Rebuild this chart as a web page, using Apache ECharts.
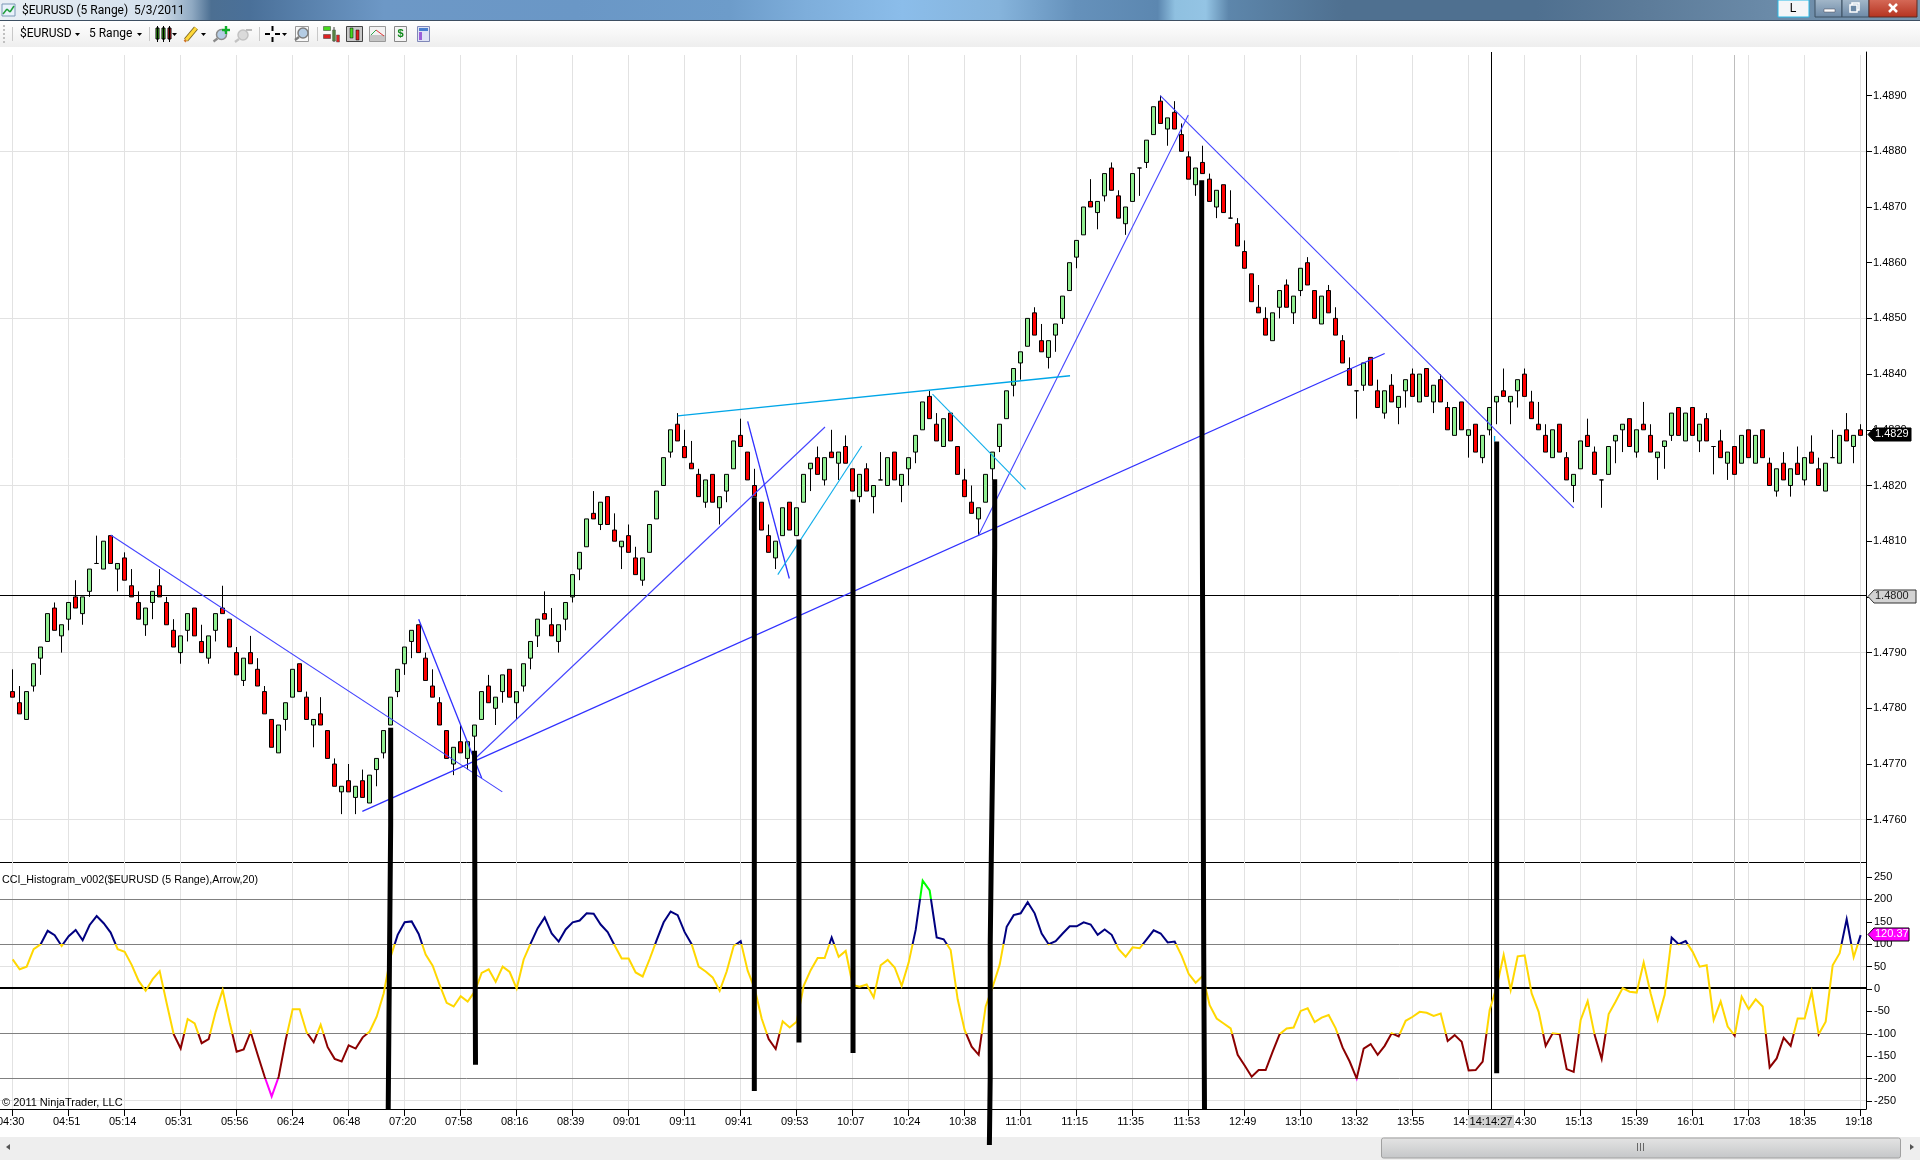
<!DOCTYPE html>
<html><head><meta charset="utf-8"><title>$EURUSD (5 Range)</title>
<style>html,body{margin:0;padding:0;background:#fff}#c{width:1920px;height:1160px}</style>
<script src="https://cdn.jsdelivr.net/npm/echarts@6/dist/echarts.min.js"></script></head>
<body><div id="c"></div>
<script>
// Prices in pips relative to basePrice
const basePrice = 1.48, pipSize = 0.0001;
const opens = [-17,-19,-22,-16,-11,-8,-2,-7,-4,0,
 -3,1,6,5,11,5,7,2,-1,-5,
 -1,2,-1,-6,-10,-6,-2,-8,-11,-6,
 -2,-4,-10,-15,-10,-13,-17,-22,-28,-22,
 -18,-12,-18,-23,-21,-24,-30,-35,-33,-36,
 -33,-37,-31,-28,-23,-17,-12,-8,-5,-11,
 -16,-19,-24,-30,-26,-29,-25,-22,-16,-20,
 -17,-13,-19,-16,-11,-7,-3,-5,-8,-4,
 0,5,9,15,13,18,12,9,11,7,
 3,8,14,20,26,31,27,24,22,17,
 22,16,19,23,29,26,20,17,11,7,
 11,17,11,17,23,25,21,26,24,27,
 23,18,23,18,21,20,26,20,23,26,
 30,36,31,27,33,27,21,17,14,17,
 23,27,32,38,42,45,51,46,43,47,
 50,55,61,65,71,69,72,77,72,67,
 71,77,78,83,89,84,87,83,79,74,
 78,75,70,74,68,67,62,58,52,50,
 46,52,56,51,55,60,55,49,55,50,
 46,41,37,38,43,37,33,38,34,37,
 40,35,41,35,39,34,29,35,29,31,
 25,30,35,37,35,37,40,35,31,29,
 25,31,25,20,23,29,26,21,22,28,
 30,32,26,31,29,25,27,29,34,28,
 34,28,32,27,28,24,27,24,30,24,
 30,24,19,24,20,24,21,26,23,19,
 25,24,30,27,30];
const closes = [-18,-21,-17,-12,-9,-3,-6,-5,-1,-2,
 0,5,6,10,6,6,3,0,-4,-2,
 1,0,-5,-9,-7,-3,-7,-10,-7,-3,
 -3,-9,-14,-11,-12,-16,-21,-27,-23,-19,
 -13,-17,-22,-22,-23,-29,-34,-34,-35,-34,
 -36,-32,-29,-24,-18,-13,-9,-6,-10,-15,
 -18,-23,-29,-27,-28,-26,-23,-17,-19,-18,
 -14,-18,-17,-12,-8,-4,-4,-7,-5,-1,
 4,8,14,14,17,13,10,10,8,4,
 7,13,19,25,30,28,25,23,18,21,
 17,18,22,28,27,21,18,12,8,10,
 16,12,16,22,24,22,25,25,26,24,
 19,22,19,20,21,25,21,22,25,29,
 35,32,28,32,28,22,18,15,16,22,
 26,31,37,41,44,50,47,44,46,49,
 54,60,64,70,70,71,76,73,68,70,
 76,77,82,88,85,86,84,80,75,77,
 76,71,73,69,68,63,59,53,51,47,
 51,55,52,54,59,56,50,54,51,47,
 42,38,37,42,38,34,37,35,36,39,
 36,40,36,38,35,30,34,30,30,26,
 29,34,36,36,36,39,36,32,30,26,
 30,26,21,22,28,27,22,21,27,29,
 31,27,30,30,26,26,28,33,29,33,
 29,31,28,27,25,26,22,29,25,29,
 25,20,23,21,23,22,25,24,20,24,
 25,29,28,29,29];
const highs = [-13,-16,-17,-12,-9,-3,-1,-5,-1,3,
 0,5,11,10,11,6,8,5,1,-2,
 1,5,0,-4,-7,-3,-2,-5,-7,-3,
 2,-4,-9,-11,-7,-11,-16,-22,-23,-19,
 -13,-12,-17,-22,-18,-24,-29,-34,-30,-34,
 -31,-32,-29,-24,-18,-13,-9,-6,-5,-10,
 -13,-18,-24,-27,-23,-26,-23,-17,-14,-18,
 -14,-13,-17,-12,-8,-4,1,-2,-5,-1,
 4,8,14,19,17,18,15,10,13,9,
 7,13,19,25,30,33,30,28,23,21,
 22,18,22,28,32,26,23,17,13,10,
 16,17,16,22,24,27,25,30,26,29,
 23,22,24,20,26,25,26,22,25,29,
 35,37,33,32,33,27,23,20,16,22,
 26,31,37,41,44,50,52,49,46,49,
 54,60,64,70,75,71,76,78,73,70,
 76,77,82,88,90,86,89,85,80,77,
 81,76,73,74,73,68,64,58,56,52,
 51,55,57,54,59,61,55,54,56,52,
 47,43,37,42,43,39,37,40,36,39,
 41,40,41,38,40,35,34,35,30,31,
 29,34,36,41,36,39,41,37,35,31,
 30,31,26,22,28,32,27,21,27,29,
 31,32,30,35,31,26,28,33,34,33,
 34,31,33,27,30,26,27,29,30,29,
 30,25,23,26,23,27,25,29,25,24,
 30,29,33,29,31];
const lows = [-18,-21,-22,-17,-14,-8,-6,-10,-6,-2,
 -5,0,6,5,6,1,3,0,-4,-7,
 -4,0,-5,-9,-12,-8,-7,-10,-12,-8,
 -3,-9,-14,-16,-12,-16,-21,-27,-28,-24,
 -18,-17,-22,-27,-23,-29,-34,-39,-35,-39,
 -36,-37,-34,-29,-23,-18,-14,-11,-10,-15,
 -18,-23,-29,-32,-28,-31,-28,-22,-19,-23,
 -19,-18,-22,-17,-13,-9,-4,-7,-10,-6,
 -1,3,9,14,12,13,10,5,8,4,
 2,8,14,20,25,28,25,23,18,16,
 17,13,17,23,27,21,18,12,8,5,
 11,12,11,17,19,22,20,25,21,24,
 19,17,19,15,21,20,21,17,20,24,
 30,32,28,27,28,22,18,15,11,17,
 21,26,32,36,39,45,47,44,41,44,
 49,55,59,65,70,66,71,73,68,65,
 71,72,77,83,85,81,84,80,75,72,
 76,71,68,69,68,63,59,53,51,47,
 46,50,52,49,54,56,50,49,51,47,
 42,38,32,37,38,34,32,35,31,34,
 36,35,36,33,35,30,29,30,25,26,
 24,29,31,36,31,34,36,32,30,26,
 25,26,21,17,23,27,22,16,22,24,
 26,27,25,30,26,21,23,28,29,28,
 29,26,28,22,25,21,22,24,25,24,
 25,20,18,21,18,22,20,24,20,19,
 25,24,28,24,29];
const cciValues = [66,44,50,89,100,130,120,96,118,132,109,143,163,147,126,89,83,54,18,-4,
 22,40,-32,-101,-133,-67,-77,-121,-112,-51,-2,-75,-140,-135,-96,-147,-196,-240,-196,-114,
 -45,-45,-97,-119,-80,-130,-156,-162,-126,-133,-108,-95,-62,-10,72,121,149,151,123,77,
 52,9,-31,-39,-16,-28,-6,36,44,16,50,38,1,66,102,136,160,124,106,133,
 149,153,169,168,144,127,97,68,68,37,28,67,109,149,173,165,127,100,50,39,
 26,-4,39,96,107,41,1,-66,-112,-134,-72,-86,-73,7,42,69,69,115,72,85,
 9,5,10,-19,53,65,48,7,59,132,242,220,115,111,87,-23,-92,-129,-147,-39,
 5,54,139,165,169,194,169,124,100,107,124,140,140,149,144,121,133,121,89,72,
 93,91,111,131,124,104,106,74,34,14,29,-36,-66,-77,-88,-147,-171,-196,-181,-181,
 -140,-101,-88,-86,-49,-43,-74,-64,-58,-88,-131,-162,-200,-133,-123,-147,-127,-99,-106,-71,
 -62,-51,-53,-60,-55,-116,-103,-118,-182,-181,-162,-47,5,76,-2,73,75,-10,-51,-127,
 -99,-101,-179,-185,-69,-27,-103,-156,-56,-28,2,-6,-8,59,-10,-69,-13,115,100,107,
 83,50,53,-69,-28,-84,-104,-17,-45,-23,-39,-175,-155,-109,-127,-66,-66,-6,-101,-73,
 53,80,156,71,120.37];
const timeLabels = ['04:30','04:51','05:14','05:31','05:56','06:24','06:48','07:20','07:58','08:16','08:39','09:01','09:11','09:41','09:53','10:07','10:24','10:38','11:01','11:15','11:35','11:53','12:49','13:10','13:32','13:55','14:10','14:30','15:13','15:39','16:01','17:03','18:35','19:18'];
const priceTicks = [1.476,1.477,1.478,1.479,1.48,1.481,1.482,1.483,1.484,1.485,1.486,1.487,1.488,1.489];
const priceGrid = [1.476,1.479,1.482,1.485,1.488];
const cciTicks = [-250,-200,-150,-100,-50,0,50,100,150,200,250];
const cciLightGrid = [50,-250];
const cciDarkGrid = [200,100,-100,-200];
const horizontalPriceLine = 1.48003, cciZeroLine = 2.9;
const crosshairBar = 211.25, sessionBreakBar = 245.95, labelStep = 8;
// Hand-drawn annotations: [bar, price] vertices
const blueThin = [[[14,1.48111],[69.95,1.4765]],[[138,1.48111],[167.95,1.48865]],[[163.95,1.489],[223,1.4816]],[[66,1.47709],[116.05,1.48305]]];
const blueMid = [[[49.95,1.47615],[196,1.48437]],[[58,1.4796],[67,1.47675]],[[105,1.48315],[110.95,1.48033]]];
const cyanMid = [[[95,1.48325],[151.05,1.48397]],[[211.7,1.48289],[211.7,1.48279]]];
const cyanThin = [[[109.3,1.4804],[121.3,1.48271]],[[131.4,1.48364],[144.7,1.48193]]];
const blackMarks = [
 [[54,1.47765],[54,1.47591],[53.8,1.47591],[53.76,1.47249],[53.65,1.47249],[53.65,1.47079]],
 [[65.98,1.47724],[66.03,1.47442],[66.12,1.47442],[66.12,1.4716]],
 [[105.95,1.48179],[105.95,1.47113]],
 [[112.33,1.48103],[112.33,1.472]],
 [[120.05,1.48175],[120.05,1.47181]],
 [[140.29,1.48211],[140.29,1.48089],[140.15,1.48089],[140.15,1.47851],[139.95,1.47851],[139.8,1.47528],[139.65,1.47375],[139.65,1.47139],[139.53,1.47139],[139.53,1.47016]],
 [[169.86,1.48748],[169.86,1.48467],[169.95,1.48467],[170.15,1.47361],[170.26,1.47361],[170.26,1.47079]],
 [[212,1.48279],[212,1.47145]]
];

const price = p => +(basePrice + p * pipSize).toFixed(4);
const candleData = opens.map((o, i) => [i, price(o), price(closes[i]), price(lows[i]), price(highs[i])]);
const cciData = cciValues.map((v, i) => [i, v]);
const tickBars = timeLabels.map((_, i) => i * labelStep);

const PANE_LEFT = 0, PANE_W = 1866, P_TOP = 52, P_H = 810, C_TOP = 862, C_H = 247;
const xMin = (PANE_LEFT - 12.67) / 7, xMax = (PANE_LEFT + PANE_W - 12.67) / 7;
const pMax = 1.482 + (485.5 - P_TOP) / 55700, pMin = 1.482 - (P_TOP + P_H - 485.5) / 55700;
const cMax = (989 - C_TOP) / 0.4477, cMin = -(C_TOP + C_H - 989) / 0.4477;
const gridTopPrice = 1.482 + (485.5 - 55) / 55700;
const FONT = '"Liberation Sans", Arial, sans-serif', UI = 'Roboto, sans-serif';
const GRID = '#e2e2e2';

// crisp, pixel-snapped rule lines placed through the axes
function rules(name, xAxisIndex, yAxisIndex, z, items) {
  return {type: 'custom', name, xAxisIndex, yAxisIndex, z, clip: false, silent: true, animation: false,
    data: items.map((_, i) => [i]),
    renderItem: (p, api) => {
      const it = items[p.dataIndex], w = it.w || 1;
      const snap = v => w % 2 ? Math.floor(v) + .5 : Math.round(v);
      if (it.h !== undefined) {
        const y = snap(api.coord([0, it.h])[1]);
        return {type: 'line', shape: {x1: PANE_LEFT, y1: y, x2: PANE_LEFT + PANE_W, y2: y}, style: {stroke: it.c, lineWidth: w}};
      }
      const a = api.coord([it.v, it.from]), b = api.coord([it.v, it.to]), x = snap(a[0]);
      return {type: 'line', shape: {x1: x, y1: a[1], x2: x, y2: b[1]}, style: {stroke: it.c, lineWidth: w}};
    }};
}
function poly(name, pts, color, width, z) {
  return {type: 'line', name, xAxisIndex: 0, yAxisIndex: 0, data: pts, showSymbol: false, symbol: 'none', clip: false, silent: true, animation: false, z,
    lineStyle: {color, width, cap: 'butt', join: 'miter'}};
}

const series = [
  rules('priceGrid', 0, 0, 1, [
    ...tickBars.map(b => ({v: b, from: gridTopPrice, to: pMin, c: GRID})),
    ...priceGrid.map(p => ({h: p, c: GRID})),
    {v: sessionBreakBar, from: gridTopPrice, to: pMin, c: '#bdbdbd'}
  ]),
  rules('cciGrid', 1, 1, 1, [
    ...tickBars.map(b => ({v: b, from: cMax, to: cMin, c: GRID})),
    ...cciLightGrid.map(v => ({h: v, c: GRID})),
    ...cciDarkGrid.map(v => ({h: v, c: '#808080'})),
    {v: sessionBreakBar, from: cMax, to: cMin, c: '#bdbdbd'}
  ]),
  {type: 'candlestick', name: '$EURUSD', xAxisIndex: 0, yAxisIndex: 0, z: 3, barWidth: 4, silent: true, animation: false,
    encode: {x: 0, y: [1, 2, 3, 4]}, data: candleData,
    itemStyle: {color: '#90EE90', color0: '#FF0000', borderColor: '#000', borderColor0: '#000', borderColorDoji: '#000', borderWidth: 1}},
  {type: 'line', name: 'CCI_Histogram', xAxisIndex: 1, yAxisIndex: 1, z: 3, data: cciData, showSymbol: false, symbol: 'none', silent: true, animation: false, lineStyle: {width: 2, join: 'miter'}},
  rules('priceLines', 0, 0, 4, [{h: horizontalPriceLine, c: '#000'}, {v: crosshairBar, from: pMax, to: pMin, c: '#000'}]),
  rules('cciLines', 1, 1, 2, [{h: cciZeroLine, c: '#000', w: 2}, {v: crosshairBar, from: cMax, to: cMin, c: '#000'}]),
  ...blueThin.map((l, i) => poly('blueThin' + i, l, '#4444ff', 1.1, 5)),
  ...blueMid.map((l, i) => poly('blueMid' + i, l, '#3030ff', 1.3, 5)),
  ...cyanMid.map((l, i) => poly('cyanMid' + i, l, '#00a6e8', 1.3, 5)),
  ...cyanThin.map((l, i) => poly('cyanThin' + i, l, '#10aeea', 1.1, 5)),
  ...blackMarks.map((l, i) => poly('mark' + i, l, '#000', 5, 25)),
  // value flags on the axes
  {type: 'custom', name: 'flags', xAxisIndex: 1, yAxisIndex: 1, z: 8, clip: false, silent: true, animation: false, data: [[xMax, 120.37]],
    renderItem: (p, api) => flag(api.coord([api.value(0), api.value(1)]), 41, '120.37', '#FF00FF', '#000', '#fff')},
  {type: 'custom', name: 'flags2', xAxisIndex: 0, yAxisIndex: 0, z: 8, clip: false, silent: true, animation: false, data: [[xMax, 1.4829, 0], [xMax, 1.48, 1]],
    renderItem: (p, api) => api.value(2) === 0
      ? flag(api.coord([api.value(0), api.value(1)]), 43, '1.4829', '#000', '#000', '#fff')
      : flag(api.coord([api.value(0), api.value(1)]), 48, '1.4800', '#d3d3d3', '#333', '#222')}
];
function flag(pt, w, txt, fill, stroke, tc) {
  const x = pt[0] + 2, y = Math.round(pt[1]) - .5;
  return {type: 'group', children: [
    {type: 'polygon', shape: {points: [[x, y], [x + 6, y - 6.5], [x + w, y - 6.5], [x + w, y + 6.5], [x + 6, y + 6.5]]}, style: {fill, stroke, lineWidth: 1}},
    {type: 'text', x: x + 7, y: y - 6, style: {text: txt, fill: tc, font: '11px ' + FONT}}
  ]};
}

// window chrome
const chrome = [];
const RT = (x, y, w, h, fill, extra) => chrome.push({type: 'rect', shape: {x, y, width: w, height: h, r: extra && extra.r || 0}, style: Object.assign({fill}, extra && extra.style || {}), z: 20, silent: true});
const T = (x, y, text, font, fill, align) => chrome.push({type: 'text', x, y, style: {text, font, fill: fill || '#000', textAlign: align || 'left', textVerticalAlign: 'middle'}, z: 21, silent: true});
const LN = (x1, y1, x2, y2, stroke, lineWidth) => chrome.push({type: 'line', shape: {x1, y1, x2, y2}, style: {stroke, lineWidth: lineWidth || 1}, z: 21, silent: true});
const G = (stops) => ({type: 'linear', x: 0, y: 0, x2: 1, y2: 0, colorStops: stops.map(s => ({offset: s[0], color: s[1]}))});
const V = (a, b) => ({type: 'linear', x: 0, y: 0, x2: 0, y2: 1, colorStops: [{offset: 0, color: a}, {offset: 1, color: b}]});
RT(0, 0, 1920, 20, G([[0,'#e9eff5'],[.083,'#d3e0ec'],[.1,'#8fa9c2'],[.11,'#4c6f92'],[.13,'#4a7099'],[.2,'#6d98c6'],[.3,'#6a97c6'],[.38,'#6d9cca'],[.42,'#7eaedb'],[.47,'#8bbdea'],[.52,'#86b4dc'],[.56,'#6591bb'],[.603,'#5c87b0'],[.612,'#8fc0e0'],[.628,'#94c4e4'],[.64,'#5d86ab'],[.7,'#4f7090'],[.8,'#4f7090'],[.85,'#5b7a98'],[.92,'#6a8aa8'],[1,'#7a97b0']]));
RT(0, 20, 1920, 1, '#3d4f62');
RT(0, 21, 1920, 26, V('#ffffff', '#eeeeee'));
T(22, 11, '$EURUSD (5 Range)  5/3/2011', '12px ' + UI, '#000');
// window icon
RT(2, 4, 13, 12, '#e8f2fb', {style: {stroke: '#7a97b5', lineWidth: 1}});
LN(3, 14, 7, 9, '#1e9e3a', 1.5); LN(7, 9, 10, 12, '#1e9e3a', 1.5); LN(10, 12, 14, 6, '#1e9e3a', 1.5);
// L button + window controls
RT(1778, 0, 31, 17, '#f4f6f8', {style: {stroke: '#29b9e6', lineWidth: 1}});
T(1793, 9, 'L', '12px ' + FONT, '#000', 'center');
RT(1815, -2, 27, 19, V('#a9bccd', '#6c89a6'), {style: {stroke: '#3d5163', lineWidth: 1}});
RT(1842, -2, 27, 19, V('#a9bccd', '#6c89a6'), {style: {stroke: '#3d5163', lineWidth: 1}});
RT(1869, -2, 48, 19, V('#d9705e', '#b4321f'), {style: {stroke: '#5d2a22', lineWidth: 1}});
RT(1824, 9, 11, 3, '#fff', {style: {stroke: '#445', lineWidth: .5}});
RT(1852, 3, 7, 7, 'transparent', {style: {stroke: '#fff', lineWidth: 1.5}});
RT(1850, 5, 7, 7, '#6c89a6', {style: {stroke: '#fff', lineWidth: 1.5}});
LN(1889, 4, 1897, 12, '#fff', 2.5); LN(1897, 4, 1889, 12, '#fff', 2.5);
// toolbar
[25, 29, 33, 37, 41].forEach(y => RT(3, y, 2, 2, '#c0c0c0'));
LN(12.5, 27, 12.5, 41, '#c8c8c8'); LN(149.5, 27, 149.5, 41, '#c8c8c8'); LN(259.5, 27, 259.5, 41, '#c8c8c8'); LN(317.5, 27, 317.5, 41, '#c8c8c8');
T(20, 34, '$EURUSD', '12px ' + UI); T(89, 34, '5 Range', '12px ' + UI);
const arrow = (x, y) => chrome.push({type: 'polygon', shape: {points: [[x, y], [x + 5, y], [x + 2.5, y + 3]]}, style: {fill: '#000'}, z: 21, silent: true});
arrow(75, 33); arrow(137, 33); arrow(172, 33); arrow(201, 33); arrow(282, 33);
// candle icon
[[156, '#46d81f'], [162, '#46d81f'], [168, '#e02020']].forEach(a => { LN(a[0] + 1.5, 26, a[0] + 1.5, 42, '#000'); RT(a[0], 28, 3, 11, a[1], {style: {stroke: '#000', lineWidth: 1}}); });
// pencil
LN(186, 40, 196, 28, '#7a6420', 5); LN(186, 40, 196, 28, '#ffd83a', 3.2); LN(184.5, 41.5, 186, 40, '#d0762a', 2.5);
// magnifiers
const MAG = (x, y, c, f) => { chrome.push({type: 'circle', shape: {cx: x, cy: y, r: 5}, style: {fill: f || '#b4cce4', stroke: c, lineWidth: 1.5}, z: 21, silent: true}); LN(x - 4, y + 4, x - 8, y + 7, c, 2.2); };
MAG(221.5, 34.5, '#8a8a8a'); LN(222, 30, 230, 30, '#0fae2a', 2.4); LN(226, 26, 226, 34, '#0fae2a', 2.4);
MAG(243, 35, '#c2c2c2', '#dadada'); LN(246, 30, 252, 30, '#bbb', 2);
// crosshair
LN(265, 34, 270, 34, '#000', 2); LN(275, 34, 280, 34, '#000', 2); LN(272.5, 26, 272.5, 31, '#000', 2); LN(272.5, 37, 272.5, 42, '#000', 2);
// zoom doc
RT(295.5, 26.5, 13, 15, '#f8f8f8', {style: {stroke: '#999', lineWidth: 1}}); MAG(303, 33, '#7d7d7d');
// indicators & others
RT(323.5, 26.5, 7, 4, '#46d81f', {style: {stroke: '#333', lineWidth: .5}}); RT(323.5, 34.5, 7, 4, '#dd2222', {style: {stroke: '#333', lineWidth: .5}}); LN(334, 27, 334, 42, '#444'); RT(332.5, 30, 3, 11, '#66c040', {style: {stroke: '#555', lineWidth: .5}}); RT(336.5, 35, 3, 7, '#dd2222', {style: {stroke: '#555', lineWidth: .5}});
RT(346.5, 26.5, 16, 15, '#c9c9c9', {style: {stroke: '#444', lineWidth: 1}}); RT(350, 28, 3, 10, '#46d81f', {style: {stroke: '#000', lineWidth: .5}}); RT(356, 30, 3, 10, '#e02020', {style: {stroke: '#000', lineWidth: .5}});
RT(369.5, 26.5, 16, 15, '#f2f2f2', {style: {stroke: '#999', lineWidth: 1}}); RT(370, 35, 15, 6, '#c6c6c6'); LN(371, 35, 376, 30, '#2fa84f', 1); LN(376, 30, 384, 36, '#d33', 1);
RT(394.5, 26.5, 12, 15, '#f4f4f4', {style: {stroke: '#888', lineWidth: 1}}); T(400.5, 34, '$', 'bold 11px ' + FONT, '#118a1c', 'center');
RT(417.5, 26.5, 12, 15, '#dfe3f5', {style: {stroke: '#8088b8', lineWidth: 1}}); RT(419, 28, 9, 3, '#4a7fd0'); RT(419, 32, 3, 8, '#9a60d8');
// panel texts
T(2, 880, 'CCI_Histogram_v002($EURUSD (5 Range),Arrow,20)', '10.7px ' + FONT);
T(2, 1103, '\u00a9 2011 NinjaTrader, LLC', '11px ' + FONT);
// bottom scrollbar
RT(0, 1137, 1920, 23, '#eeeeee');
RT(1381.5, 1138, 519, 20, V('#e4e4e4', '#c4c6c8'), {r: 2, style: {stroke: '#a0a0a0', lineWidth: 1}});
[1637, 1640, 1643].forEach(x => LN(x + .5, 1143, x + .5, 1151, '#666'));
chrome.push({type: 'polygon', shape: {points: [[10, 1144], [6, 1147], [10, 1150]]}, style: {fill: '#555'}, z: 21, silent: true});
chrome.push({type: 'polygon', shape: {points: [[1910, 1144], [1914, 1147], [1910, 1150]]}, style: {fill: '#555'}, z: 21, silent: true});
// crosshair time
RT(1468, 1115, 46, 13, '#d3d3d3');
T(1491, 1122, '14:14:27', '11px ' + FONT, '#000', 'center');

const option = {
  animation: false, backgroundColor: '#fff',
  grid: [{left: PANE_LEFT, width: PANE_W, top: P_TOP, height: P_H, outerBoundsMode: 'none'}, {left: PANE_LEFT, width: PANE_W, top: C_TOP, height: C_H, outerBoundsMode: 'none'}],
  xAxis: [
    {type: 'value', gridIndex: 0, min: xMin, max: xMax, axisLine: {onZero: false, lineStyle: {color: '#000'}}, axisTick: {show: false}, axisLabel: {show: false}, splitLine: {show: false}},
    {type: 'value', gridIndex: 1, min: xMin, max: xMax, axisLine: {onZero: false, lineStyle: {color: '#000'}}, splitLine: {show: false},
      axisTick: {show: true, length: 7, lineStyle: {color: '#000'}, customValues: tickBars},
      axisLabel: {show: true, customValues: tickBars, showMinLabel: true, showMaxLabel: true, hideOverlap: false, margin: 7, padding: [0, 4, 0, 0], color: '#000', fontFamily: FONT, fontSize: 11, formatter: v => timeLabels[Math.round(v / labelStep)] || ''}}
  ],
  yAxis: [
    {type: 'value', gridIndex: 0, position: 'right', min: pMin, max: pMax, scale: true, axisLine: {show: true, onZero: false, lineStyle: {color: '#000'}}, splitLine: {show: false},
      axisTick: {show: true, length: 6, lineStyle: {color: '#000'}, customValues: priceTicks},
      axisLabel: {show: true, customValues: priceTicks, margin: 7, padding: [2, 0, 0, 0], color: '#000', fontFamily: FONT, fontSize: 11, formatter: v => v.toFixed(4)}},
    {type: 'value', gridIndex: 1, position: 'right', min: cMin, max: cMax, axisLine: {show: true, onZero: false, lineStyle: {color: '#000'}}, splitLine: {show: false},
      axisTick: {show: true, length: 6, lineStyle: {color: '#000'}, customValues: cciTicks},
      axisLabel: {show: true, customValues: cciTicks, margin: 8, color: '#000', fontFamily: FONT, fontSize: 11, formatter: v => String(v)}}
  ],
  visualMap: [{type: 'piecewise', show: false, seriesIndex: 3, dimension: 1, pieces: [
    {gt: 200, color: '#00FF00'}, {gt: 100, lte: 200, color: '#000080'}, {gte: -100, lte: 100, color: '#FFD700'}, {gte: -200, lt: -100, color: '#8B0000'}, {lt: -200, color: '#FF00FF'}]}],
  graphic: {elements: chrome},
  series
};
const chart = echarts.init(document.getElementById('c'), null, {renderer: 'canvas', width: 1920, height: 1160});
chart.setOption(option);
</script></body></html>
